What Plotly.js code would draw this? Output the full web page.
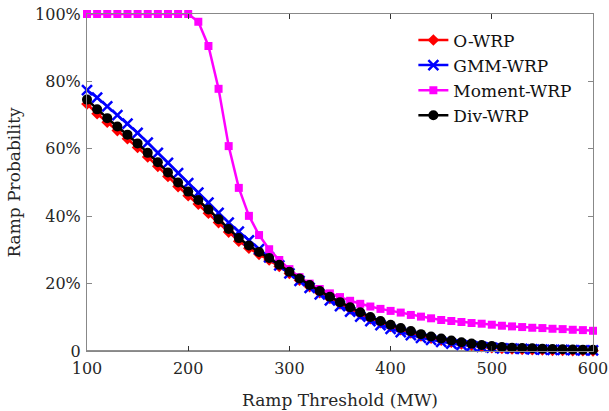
<!DOCTYPE html>
<html>
<head>
<meta charset="utf-8">
<script src="https://cdn.plot.ly/plotly-3.0.1.min.js"></script>
<style>html,body{margin:0;padding:0;background:#fff;}#chart{width:609px;height:411px;}</style>
</head>
<body>
<div id="chart"></div>
<script>
// Ramp threshold (MW)
const thresholds = [100,110,120,130,140,150,160,170,180,190,200,210,220,230,240,250,260,270,280,290,300,310,320,330,340,350,360,370,380,390,400,410,420,430,440,450,460,470,480,490,500,510,520,530,540,550,560,570,580,590,600];

// Ramp probability (%)
const oWRP = [73.3,70.4,67.9,65.4,63.0,60.4,57.6,54.8,51.8,48.8,46.1,43.6,40.9,38.1,35.3,32.6,30.5,28.7,27.0,25.1,23.0,21.0,19.1,17.3,15.6,14.0,12.5,11.0,9.6,8.4,7.3,6.3,5.4,4.5,3.8,3.2,2.6,2.1,1.7,1.3,1.0,0.8,0.6,0.5,0.4,0.3,0.2,0.15,0.1,0.08,0.05];
const gmmWRP = [77.4,75.2,72.6,70.0,67.5,64.7,61.8,58.8,55.8,52.8,49.8,47.0,44.0,41.0,38.1,35.4,32.8,30.2,27.8,25.4,23.0,20.8,18.7,16.8,15.0,13.3,11.7,10.2,8.9,7.7,6.6,5.6,4.7,3.9,3.3,2.7,2.2,1.8,1.5,1.2,1.0,0.8,0.7,0.6,0.5,0.4,0.35,0.3,0.25,0.2,0.2];
const momentWRP = [100,100,100,100,100,100,100,100,100,100,100,97.7,90.5,77.8,60.8,48.4,40.1,34.4,30.2,27.0,24.3,21.9,20.0,18.4,17.1,16.0,14.9,14.0,13.2,12.5,11.9,11.4,10.7,10.2,9.7,9.2,8.9,8.6,8.3,8.1,7.8,7.5,7.3,7.1,6.9,6.8,6.6,6.5,6.3,6.2,6.0];
const divWRP = [74.6,71.7,69.1,66.6,64.2,61.6,58.8,56.0,53.0,50.0,47.3,44.8,42.0,39.1,36.2,33.5,31.3,29.4,27.6,25.6,23.5,21.5,19.6,17.8,16.1,14.5,13.0,11.5,10.1,8.9,7.8,6.8,5.9,5.0,4.3,3.7,3.1,2.6,2.2,1.8,1.5,1.2,1.0,0.9,0.8,0.7,0.6,0.5,0.45,0.4,0.35];

const yTickVals = [0,20,40,60,80,100];
const yTickText = ['0','20%','40%','60%','80%','100%'];
const xTickVals = [100,200,300,400,500,600];

const FONT = "DejaVu Serif";

const traces = [
  {x: thresholds, y: oWRP, name: 'O-WRP', mode: 'lines+markers', cliponaxis: false,
   line: {color: '#ff0000', width: 2.5}, marker: {symbol: 'diamond', size: 9, color: '#ff0000'}},
  {x: thresholds, y: gmmWRP, name: 'GMM-WRP', mode: 'lines+markers', cliponaxis: false,
   line: {color: '#0000ff', width: 2.5}, marker: {symbol: 'x-thin', size: 10, color: '#0000ff', line: {color: '#0000ff', width: 2.5}}},
  {x: thresholds, y: momentWRP, name: 'Moment-WRP', mode: 'lines+markers', cliponaxis: false,
   line: {color: '#ff00ff', width: 2.5}, marker: {symbol: 'square', size: 8, color: '#ff00ff'}},
  {x: thresholds, y: divWRP, name: 'Div-WRP', mode: 'lines+markers', cliponaxis: false,
   line: {color: '#000000', width: 2.5}, marker: {symbol: 'circle', size: 10, color: '#000000'}}
];

const layout = {
  width: 609, height: 411,
  margin: {l: 87, r: 16, t: 14, b: 60},
  paper_bgcolor: '#ffffff', plot_bgcolor: '#ffffff',
  font: {family: FONT, size: 17, color: '#262626'},
  showlegend: true,
  legend: {x: 0.645, y: 0.975, xanchor: 'left', yanchor: 'top', bgcolor: 'rgba(255,255,255,0)',
           borderwidth: 0, font: {family: FONT, size: 17, color: '#111'}, tracegroupgap: 0},
  xaxis: {
    range: [100, 600], tickvals: xTickVals, ticks: 'inside', ticklen: 5, tickcolor: '#333',
    showline: true, linecolor: '#888', linewidth: 1, mirror: 'ticks', showgrid: false, zeroline: false,
    ticklabelstandoff: 3,
    tickfont: {family: FONT, size: 16, color: '#262626'},
    title: {text: 'Ramp Threshold (MW)', font: {family: FONT, size: 17, color: '#262626'}, standoff: 16}
  },
  yaxis: {
    range: [0, 100], tickvals: yTickVals, ticktext: yTickText, ticks: 'inside', ticklen: 5, tickcolor: '#888',
    showline: true, linecolor: '#888', linewidth: 1, mirror: 'ticks', showgrid: false, zeroline: false,
    ticklabelstandoff: 2,
    tickfont: {family: FONT, size: 16, color: '#262626'},
    title: {text: 'Ramp Probability', font: {family: FONT, size: 17, color: '#262626'}, standoff: 10}
  },
  shapes: [
    {type: 'line', xref: 'paper', yref: 'paper', x0: 0, x1: 1, y0: 0, y1: 0, layer: 'below',
     line: {color: '#222', width: 1.2}}
  ]
};

Plotly.newPlot('chart', traces, layout, {displayModeBar: false, staticPlot: true});
</script>
</body>
</html>
